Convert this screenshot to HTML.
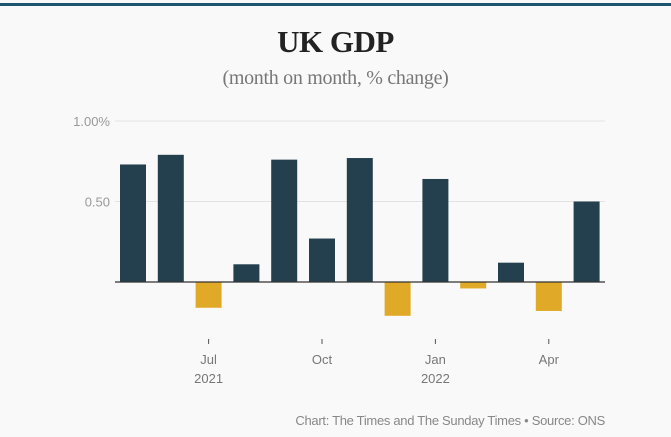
<!DOCTYPE html>
<html><head><meta charset="utf-8"><style>
html,body{margin:0;padding:0;background:#fff}
#wrap{position:relative;width:671px;height:437px;background:#f9f9f9;overflow:hidden}
#topline{position:absolute;left:0;top:3px;width:671px;height:3px;background:#1d5470}
#title{position:absolute;left:0;width:671px;top:24px;text-align:center;font:bold 31px "Liberation Serif",serif;color:#222;letter-spacing:-0.5px}
#sub{position:absolute;left:0;width:671px;top:67px;text-align:center;font:20px "Liberation Serif",serif;color:#777;letter-spacing:-0.3px}
#foot{position:absolute;right:66px;top:413px;font:13px "Liberation Sans",sans-serif;color:#888;letter-spacing:-0.3px}
svg{position:absolute;left:0;top:0}
</style></head><body>
<div id="wrap">
<div id="topline"></div>
<div id="title">UK GDP</div>
<div id="sub">(month on month, % change)</div>
<svg id="chart" width="671" height="437"></svg>
<div id="foot">Chart: The Times and The Sunday Times • Source: ONS</div>
</div>
<script>
const months = ["May 2021","Jun 2021","Jul 2021","Aug 2021","Sep 2021","Oct 2021","Nov 2021","Dec 2021","Jan 2022","Feb 2022","Mar 2022","Apr 2022","May 2022"];
const values = [0.73,0.79,-0.16,0.11,0.76,0.27,0.77,-0.21,0.64,-0.04,0.12,-0.18,0.50];
const yTicks = [0.5,1.0];
const yTickLabels = ["0.50","1.00%"];
const xTickIdx = [2,5,8,11];
const xTickLabels = ["Jul","Oct","Jan","Apr"];
const xYearLabels = ["2021","","2022",""];

const svg = document.getElementById('chart');
const NS = 'http://www.w3.org/2000/svg';
const x0 = 133, step = 37.8, bw = 26;
const y = v => 282 - v * 161;
const x = i => x0 + step * i;
function mk(tag, attrs){const e=document.createElementNS(NS,tag);for(const k in attrs)e.setAttribute(k,attrs[k]);svg.appendChild(e);return e;}

yTicks.forEach((t,i)=>{
  const g = mk('line',{x1:115,x2:605,y1:y(t),y2:y(t),stroke:'#e2e2e2','stroke-width':1});
  
  
  const l = mk('text',{x:110,y:y(t)+5,'text-anchor':'end','font-family':'Liberation Sans, sans-serif','font-size':13,fill:'#999'});
  l.textContent = yTickLabels[i];
  
  
});

values.forEach((v,i)=>{
  const top = v>=0 ? y(v) : y(0);
  const h = Math.abs(y(v)-y(0));
  const r = mk('rect',{x:x(i)-bw/2,y:top,width:bw,height:h,fill:v>=0?'#24404f':'#e0aa28'});
  
  
});

const ax = mk('line',{x1:115,x2:605,y1:y(0),y2:y(0),stroke:'#333','stroke-width':1.2});



xTickIdx.forEach((idx,i)=>{
  const t = mk('line',{x1:x(idx),x2:x(idx),y1:339,y2:344,stroke:'#555','stroke-width':1});
  
  
  const l = mk('text',{x:x(idx),y:364,'text-anchor':'middle','font-family':'Liberation Sans, sans-serif','font-size':13,fill:'#777'});
  l.textContent = xTickLabels[i];
  
  
  if(xYearLabels[i]){
    const yl = mk('text',{x:x(idx),y:383,'text-anchor':'middle','font-family':'Liberation Sans, sans-serif','font-size':13,fill:'#777'});
    yl.textContent = xYearLabels[i];
    
    
  }
});
</script>
</body></html>
